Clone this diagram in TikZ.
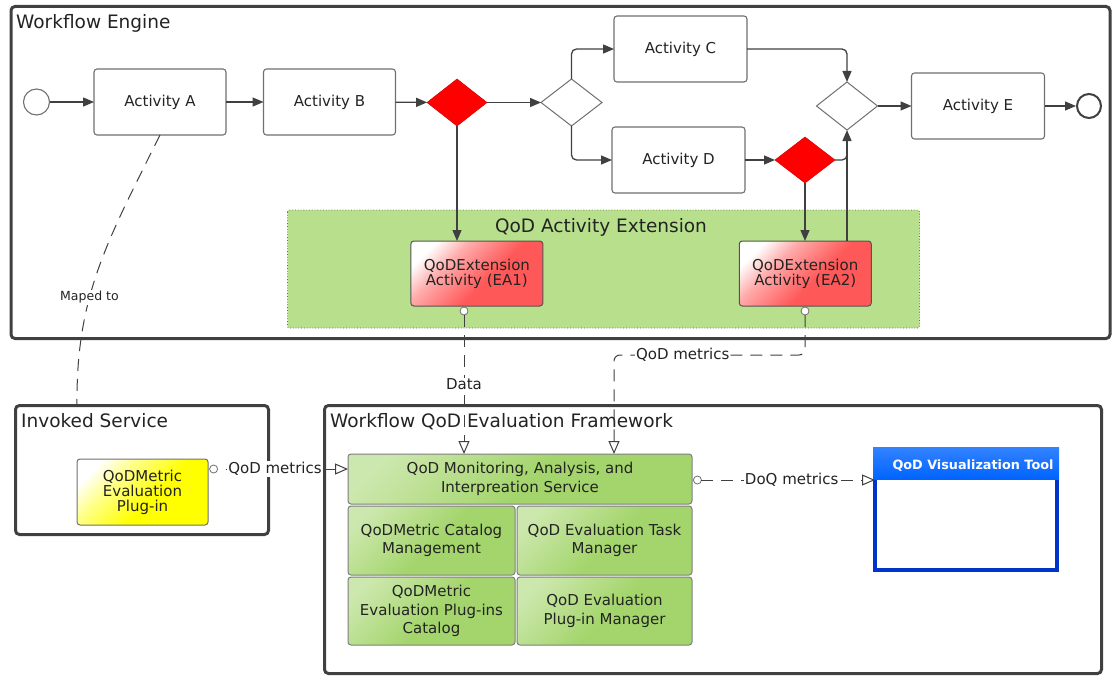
\documentclass[tikz,border=0pt]{standalone}
\usepackage{fontspec}
\setmainfont{DejaVu Sans}
\usetikzlibrary{arrows.meta,shapes.geometric,calc}
\definecolor{ln}{RGB}{64,64,64}
\definecolor{bx}{RGB}{112,112,112}
\definecolor{grn}{RGB}{184,224,140}
\definecolor{gbox}{RGB}{164,213,108}
\definecolor{redf}{RGB}{255,88,88}
\definecolor{blu}{RGB}{0,51,204}
\definecolor{blh}{RGB}{0,100,255}
\definecolor{txt}{RGB}{35,35,35}
\colorlet{redm}{redf!50!white}
\colorlet{yelf}{yellow}
\colorlet{yelm}{yellow!45!white}
\colorlet{grm}{gbox!55!white}
\pgfdeclareverticalshading{redsh}{100bp}{color(0bp)=(redf); color(44bp)=(redf); color(64bp)=(redm); color(76bp)=(white); color(100bp)=(white)}
\pgfdeclareverticalshading{ylwsh}{100bp}{color(0bp)=(yelf); color(44bp)=(yelf); color(64bp)=(yelm); color(76bp)=(white); color(100bp)=(white)}
\pgfdeclareverticalshading{grsh}{100bp}{color(0bp)=(gbox); color(48bp)=(gbox); color(78bp)=(grm); color(100bp)=(grm)}
\newcommand\fbody{\fontsize{15}{15}\selectfont}
\newcommand\fgreen{\fontsize{15}{18.5}\selectfont}
\newcommand\ftitle{\fontsize{18.5}{20}\selectfont}
\newcommand\fsmall{\fontsize{12.5}{14}\selectfont}
\tikzset{
 every node/.style={text=txt},
 act/.style={draw=bx, line width=1.1pt, rounded corners=3pt, fill=white, inner sep=0pt, outer sep=0pt, font=\fbody, align=center},
 gw/.style={diamond, draw=bx, line width=1pt, fill=white, inner sep=0pt, outer sep=0pt},
 rgw/.style={diamond, draw=red!85!black, line width=0.5pt, fill=red, inner sep=0pt, outer sep=0pt},
 flow/.style={draw=ln, line width=1.3pt, -{Triangle[length=11pt,width=9pt]}},
 cline/.style={draw=ln, line width=1.3pt},
 dline/.style={draw=ln, line width=1pt, dash pattern=on 12pt off 8pt},
 oarrow/.style={dline, -{Triangle[open, length=13pt, width=11pt, fill=white]}},
 container/.style={draw=ln, line width=3pt, rounded corners=4pt},
 title/.style={font=\ftitle, inner sep=0pt, anchor=base west},
 ext/.style={draw=ln!90, line width=1pt, rounded corners=3pt, inner sep=0pt, outer sep=0pt, font=\fbody, align=center, shade, shading=redsh, shading angle=45},
 ylw/.style={draw=bx, line width=1pt, rounded corners=3pt, inner sep=0pt, outer sep=0pt, font=\fbody, align=center, shade, shading=ylwsh, shading angle=45},
 gb/.style={draw=bx!90, line width=1pt, rounded corners=3pt, inner sep=0pt, outer sep=0pt, font=\fgreen, align=center, shade, shading=grsh, shading angle=45},
 port/.style={circle, draw=bx, fill=white, line width=0.8pt, minimum size=8pt, inner sep=0pt, outer sep=0pt},
 lbl/.style={fill=white, inner sep=1pt, font=\fbody},
}
\begin{document}
\begin{tikzpicture}[x=1pt,y=-1pt]
\useasboundingbox (0,0) rectangle (1117,677);
% containers
\draw[container] (11,6.5) rectangle (1110,338.5);
\node[title] (wft) at (16,29) {Workflow Engine};
\draw[container] (15.5,405.5) rectangle (268.5,534.5);
\node[title] (invt) at (21,427) {Invoked Service};
\draw[container] (324.5,405.5) rectangle (1101.5,673.5);
\node[title] (fwt) at (330,427) {Workflow QoD Evaluation Framework};
\coordinate (invtop) at (77,404.5);
% extension region
\draw[fill=grn, draw=ln!80, dotted, line width=0.8pt, rounded corners=2pt] (287.5,210) rectangle (919.5,328);
\node[font=\ftitle, inner sep=0pt, anchor=base] (extt) at (601,232) {QoD Activity Extension};
% workflow nodes
\node[circle, draw=bx, line width=1.1pt, fill=white, minimum size=26pt, inner sep=0pt] (start) at (36.5,102) {};
\node[act, minimum width=132pt, minimum height=66pt] (actA) at (160,102) {Activity A};
\node[act, minimum width=132pt, minimum height=66pt] (actB) at (329.5,102) {Activity B};
\node[rgw, minimum width=60pt, minimum height=47pt] (g1) at (457,102.5) {};
\node[gw, minimum width=61pt, minimum height=47pt] (g2) at (571.5,102.5) {};
\node[act, minimum width=133pt, minimum height=66pt] (actC) at (680.5,49) {Activity C};
\node[act, minimum width=133pt, minimum height=66pt] (actD) at (678.5,160) {Activity D};
\node[rgw, minimum width=60pt, minimum height=46pt] (g3) at (805,160) {};
\node[gw, minimum width=61pt, minimum height=48pt] (g4) at (847,106) {};
\node[act, minimum width=133pt, minimum height=66pt] (actE) at (978,106) {Activity E};
\node[circle, draw=ln, line width=2pt, fill=white, minimum size=24pt, inner sep=0pt] (end) at (1089,106) {};
\node[ext, minimum width=132pt, minimum height=65pt] (ea1) at (476.85,273.5) {QoDExtension\\Activity (EA1)};
\node[ext, minimum width=132pt, minimum height=65pt] (ea2) at (805.25,273.5) {QoDExtension\\Activity (EA2)};
% flows
\draw[flow] (start) -- (actA);
\draw[flow] (actA) -- (actB);
\draw[flow] (actB) -- (g1);
\draw[flow] (g1) -- (g2);
\draw[flow, rounded corners=5pt] (g2.north) |- (actC.west);
\draw[flow, rounded corners=5pt] (g2.south) |- (actD.west);
\draw[flow] (actD) -- (g3);
\draw[flow, rounded corners=5pt] (actC.east) -| (g4.north);
\draw[cline, rounded corners=5pt] (g3.east) -| ($(g4.south)+(0,20)$);
\draw[flow] (ea2.north -| g4.south) -- (g4.south);
\draw[flow] (g4) -- (actE);
\draw[flow] (actE) -- (end);
\draw[flow] (g1.south) -- (g1.south |- ea1.north);
\draw[flow] (g3.south) -- (g3.south |- ea2.north);
\draw[cline, rounded corners=3pt] ($(ea1.north)+(25,0)$) -- ($(ea1.north)+(25,0)$ |- g1.east);
% lower nodes
\node[ylw, minimum width=131pt, minimum height=66pt] (plug) at (142.5,492) {QoDMetric\\Evaluation\\Plug-in};
\node[gb, minimum width=344pt, minimum height=50pt] (mon) at (520,479) {QoD Monitoring, Analysis, and\\Interpreation Service};
\node[gb, minimum width=167pt, minimum height=69pt] (cat) at (431.5,540.5) {QoDMetric Catalog\\Management};
\node[gb, minimum width=175pt, minimum height=69pt] (task) at (604.5,540.5) {QoD Evaluation Task\\Manager};
\node[gb, minimum width=167pt, minimum height=68pt] (pcat) at (431.5,611) {QoDMetric\\Evaluation Plug-ins\\Catalog};
\node[gb, minimum width=175pt, minimum height=68pt] (pmgr) at (604.5,611) {QoD Evaluation\\Plug-in Manager};
% visualization tool
\node[draw=blu, line width=4pt, fill=white, minimum width=182pt, minimum height=121pt, inner sep=0pt, outer sep=0pt] (vis) at (966,509.5) {};
\shade[top color=blh!80!white, bottom color=blh] ($(vis.north west)+(-2,-2)$) rectangle ($(vis.north east)+(2,30)$);
\node[font=\bfseries\fontsize{12.8}{14}\selectfont, text=white, inner sep=0pt] (vist) at (973,465.5) {QoD Visualization Tool};
% ports
\node[port] (p1) at (464,311) {};
\node[port] (p2) at (805,311) {};
\node[port] (p3) at (213.6,469) {};
\node[port] (p4) at (697.4,480) {};
% dashed connectors
\draw[dline] (actA.south) .. controls (108,240) and (76,295) .. node[pos=0.62, fill=white, inner sep=1pt, font=\fsmall] {Maped to} (invtop);
\draw[oarrow] (p1.south) -- node[lbl, pos=0.5] {Data} (p1.south |- mon.north);
\coordinate (qm) at (614,355);
\draw[oarrow, rounded corners=6pt] (p2.south) |- node[lbl, pos=0.82] {QoD metrics} (qm) -- (qm |- mon.north);
\draw[oarrow, dash phase=12pt] (p3.east) -- node[lbl, pos=0.44] {QoD metrics} (mon.west |- p3.east);
\draw[oarrow] (p4.east) -- node[lbl, pos=0.52] {DoQ metrics} (p4.east -| vis.west);
\end{tikzpicture}
\end{document}
